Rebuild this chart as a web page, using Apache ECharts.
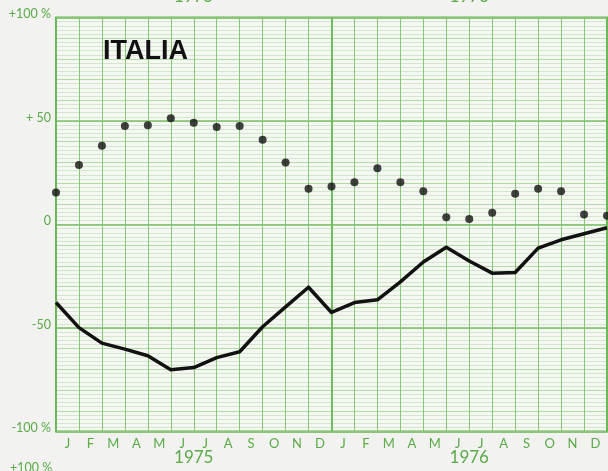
<!DOCTYPE html>
<html>
<head>
<meta charset="utf-8">
<script src="https://cdn.jsdelivr.net/npm/echarts@6/dist/echarts.min.js"></script>
<style>
html,body{margin:0;padding:0;background:#f2f2f0;}
#c{width:608px;height:471px;}
</style>
</head>
<body>
<div id="c"></div>
<script>
// ---- data ----
const title = 'ITALIA';
const months = ['J','F','M','A','M','J','J','A','S','O','N','D','J','F','M','A','M','J','J','A','S','O','N','D'];
const years = ['1975','1976'];
const yTickValues = [-100, -50, 0, 50, 100];
const yTickLabels = ['-100 %', '-50', '0', '+ 50', '+100 %'];
const nextChartLabel = '+100 %';
// dots: one value per month boundary (25 points)
const dotValues = [15.4, 28.8, 38.0, 47.6, 47.9, 51.3, 49.2, 47.1, 47.6, 40.9, 29.9, 17.3,
                   18.3, 20.4, 27.2, 20.4, 16.1, 3.5, 2.6, 5.7, 14.8, 17.3, 16.1, 4.8, 4.2];
// solid line: one value per month boundary (25 points)
const lineValues = [-37.7, -49.8, -57.3, -60.2, -63.4, -70.2, -69.1, -64.3, -61.5, -49.4, -39.8, -30.3,
                    -42.5, -37.7, -36.4, -27.7, -18.1, -11.0, -17.6, -23.5, -23.2, -11.4, -7.4, -4.5, -1.6];

const GREEN = '#5aaa48';
const chart = echarts.init(document.getElementById('c'), null, {renderer: 'canvas'});
const lblFont = 'Lato, "Open Sans", sans-serif';

chart.setOption({
  backgroundColor: '#f2f2f0',
  animation: false,
  title: {
    text: title, left: 103, top: 38, padding: 0,
    textStyle: {fontFamily: '"Liberation Sans", Arial, sans-serif', fontWeight: 'bold', fontSize: 27, color: '#111'}
  },
  grid: {
    left: 56, right: 1, top: 17.5, bottom: 39.5,
    containLabel: false, outerBoundsMode: 'none',
    show: true, backgroundColor: '#f5f7f2', borderColor: '#62b050', borderWidth: 2
  },
  xAxis: [
    { // data axis, month boundaries
      type: 'value', min: 0, max: months.length, interval: 1, z: 4,
      axisLine: {show: false}, axisTick: {show: false}, axisLabel: {show: false},
      splitLine: {show: true, lineStyle: {color: '#86c674', width: 1}}
    },
    { // month letters
      type: 'category', data: months, boundaryGap: true, position: 'bottom',
      axisLine: {show: false}, axisTick: {show: false}, splitLine: {show: false},
      axisLabel: {margin: 6, color: GREEN, fontSize: 13, fontFamily: lblFont}
    },
    { // years bottom
      type: 'category', data: years, boundaryGap: true, position: 'bottom',
      axisLine: {show: false}, axisTick: {show: false}, splitLine: {show: false},
      axisLabel: {margin: 18, color: GREEN, fontSize: 17, fontFamily: lblFont}
    },
    { // years top (from chart above, cut off)
      type: 'category', data: years, boundaryGap: true, position: 'top',
      axisLine: {show: false}, axisTick: {show: false}, splitLine: {show: false},
      axisLabel: {margin: 12, color: GREEN, fontSize: 17, fontFamily: lblFont}
    },
    { // year boundary heavy line
      type: 'value', min: 0, max: months.length, interval: 12, z: 5,
      axisLine: {show: false}, axisTick: {show: false}, axisLabel: {show: false},
      splitLine: {show: true, lineStyle: {color: '#6ab858', width: 1.8}}
    }
  ],
  yAxis: [
    {
      type: 'value', min: -100, max: 100, interval: 50, z: 3,
      axisLine: {show: false}, axisTick: {show: false},
      axisLabel: {
        margin: 5, color: GREEN, fontSize: 12.5, fontFamily: lblFont,
        verticalAlign: 'bottom', lineHeight: 7,
        formatter: function (v) { const i = yTickValues.indexOf(v); return i >= 0 ? yTickLabels[i] : ''; }
      },
      splitLine: {show: true, lineStyle: {color: '#7cc06a', width: 1.5}}
    },
    {
      type: 'value', min: -100, max: 100, interval: 10, z: 1,
      axisLine: {show: false}, axisTick: {show: false}, axisLabel: {show: false},
      splitLine: {show: true, lineStyle: {color: '#b3d9a6', width: 1}},
      minorTick: {show: false, splitNumber: 5},
      minorSplitLine: {show: true, lineStyle: {color: '#d4e6cd', width: 1}}
    }
  ],
  graphic: [
    {type: 'text', left: 10, top: 461, style: {text: nextChartLabel, fill: GREEN, font: '12.5px ' + lblFont}}
  ],
  series: [
    {
      type: 'line', xAxisIndex: 0, yAxisIndex: 0, z: 6,
      data: lineValues.map((v, i) => [i, v]),
      showSymbol: false, symbol: 'none',
      lineStyle: {color: '#111', width: 3.5, join: 'round'}
    },
    {
      type: 'scatter', xAxisIndex: 0, yAxisIndex: 0, z: 6,
      data: dotValues.map((v, i) => [i, v]),
      symbol: 'circle', symbolSize: 8,
      itemStyle: {color: '#111'}
    }
  ]
});
</script>
</body>
</html>
